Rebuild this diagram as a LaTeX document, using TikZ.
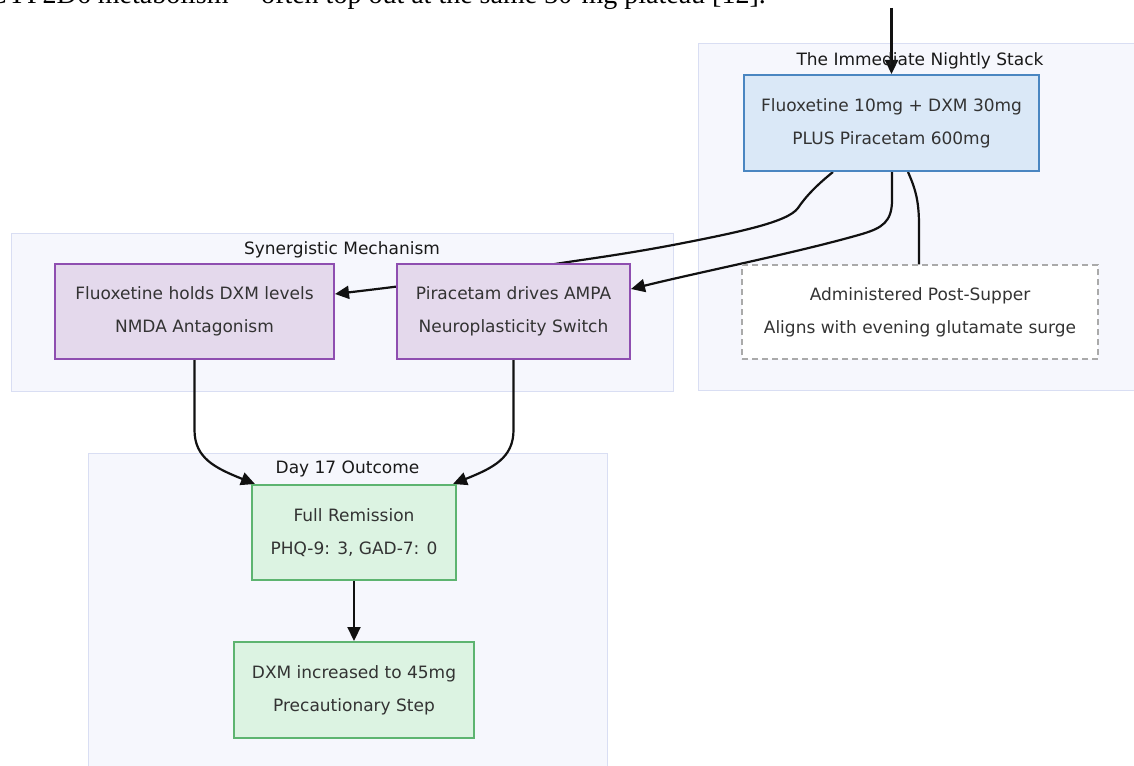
\documentclass[tikz,border=0pt]{standalone}
\usepackage{fontspec}
\setmainfont{DejaVu Sans}
\newfontfamily\paperfont{Liberation Serif}
\usetikzlibrary{arrows.meta,calc}
\definecolor{clF}{HTML}{F6F7FD}
\definecolor{clS}{HTML}{D9DEF3}
\definecolor{blueF}{HTML}{DAE8F7}
\definecolor{blueS}{HTML}{4A86C1}
\definecolor{purF}{HTML}{E4D9EC}
\definecolor{purS}{HTML}{8E4EB0}
\definecolor{grnF}{HTML}{DCF3E2}
\definecolor{grnS}{HTML}{5DB470}
\definecolor{dashS}{HTML}{AAAAAA}
\definecolor{txt}{HTML}{333333}
\definecolor{lineC}{HTML}{111111}
\pgfdeclarelayer{bg}
\pgfdeclarelayer{edges}
\pgfsetlayers{bg,edges,main}
\begin{document}
\begin{tikzpicture}[x=1pt,y=-1pt,
  nbox/.style={rectangle, line width=2pt, align=center, inner sep=0pt, text=txt,
    font=\fontsize{17}{33}\selectfont},
  bluebox/.style={nbox, draw=blueS, fill=blueF},
  purbox/.style={nbox, draw=purS, fill=purF},
  grnbox/.style={nbox, draw=grnS, fill=grnF},
  notebox/.style={nbox, draw=dashS, fill=white, line width=1.3pt, dash pattern=on 6pt off 4pt},
  cluster/.style={rectangle, draw=clS, fill=clF, line width=1pt, inner sep=0pt},
  ctitle/.style={font=\fontsize{17}{20}\selectfont, text=black!90, inner sep=0pt},
  conn/.style={line width=2.2pt, draw=lineC},
  arr/.style={conn, -{Triangle[length=14pt,width=13pt]}}
]
\useasboundingbox (0,0) rectangle (1134,765);
\clip (0,0) rectangle (1134,765);

% clipped paper text at the top
\node[anchor=base east, inner sep=0pt, font=\paperfont\fontsize{28}{30}\selectfont, text=black]
  (paper) at (766,4) {CYP2D6 metabolism -- often top out at the same 30-mg plateau [12].};

% clusters
\begin{pgfonlayer}{bg}
\node[cluster, minimum width=447pt, minimum height=346pt] (cStack) at (921.5,217) {};
\node[cluster, minimum width=662pt, minimum height=158pt] (cSyn) at (342,312) {};
\node[cluster, minimum width=519pt, minimum height=322pt] (cDay) at (347.5,614) {};
\end{pgfonlayer}
\node[ctitle] (tStack) at (920,61) {The Immediate Nightly Stack};
\node[ctitle] (tSyn) at (342,250) {Synergistic Mechanism};
\node[ctitle] (tDay) at (347.5,469) {Day 17 Outcome};

% nodes
\node[bluebox, minimum width=295pt, minimum height=96pt] (stack) at (891.5,123)
  {Fluoxetine 10mg + DXM 30mg\\PLUS Piracetam 600mg};
\node[notebox, minimum width=356pt, minimum height=94pt] (note) at (920,312)
  {Administered Post-Supper\\Aligns with evening glutamate surge};
\node[purbox, minimum width=279pt, minimum height=95pt] (p1) at (194.5,311.5)
  {Fluoxetine holds DXM levels\\NMDA Antagonism};
\node[purbox, minimum width=233pt, minimum height=95pt] (p2) at (513.5,311.5)
  {Piracetam drives AMPA\\Neuroplasticity Switch};
\node[grnbox, minimum width=204pt, minimum height=95pt] (rem) at (354,532.5)
  {Full Remission\\PHQ-9: 3, GAD-7: 0};
\node[grnbox, minimum width=240pt, minimum height=96pt] (dxm) at (354,690)
  {DXM increased to 45mg\\Precautionary Step};

\coordinate (entry) at (891.5,8);

% connectors
\begin{pgfonlayer}{edges}
\draw[arr] (entry) -- (stack.north);
\draw[arr] ($(stack.south)+(-58.5,0)$) .. controls (818,184) and (806,196) .. (798,208)
  .. controls (788,222) and (740,232) .. (673,245)
  .. controls (620,255) and (580,260) .. (555,264)
  .. controls (480,276) and (420,284) .. ($(p1.east)+(0,-17.5)$);
\draw[arr] ($(stack.south)+(0.5,0)$) -- (892,200)
  .. controls (892,222) and (882,228) .. (862,234)
  .. controls (800,252) and (700,272) .. ($(p2.east)+(0,-22.5)$);
\draw[conn] ($(stack.south)+(16.5,0)$) .. controls (915,188) and (919,200) .. (919,225) -- ($(note.north)+(-1,0)$);
\draw[arr] (p1.south) -- (194.5,430) .. controls (194.5,458) and (215,468) .. ($(rem.north)+(-99,0)$);
\draw[arr] (p2.south) -- (513.5,430) .. controls (513.5,458) and (493,468) .. ($(rem.north)+(99,0)$);
\draw[arr] (rem.south) -- (dxm.north);
\end{pgfonlayer}
\end{tikzpicture}
\end{document}
